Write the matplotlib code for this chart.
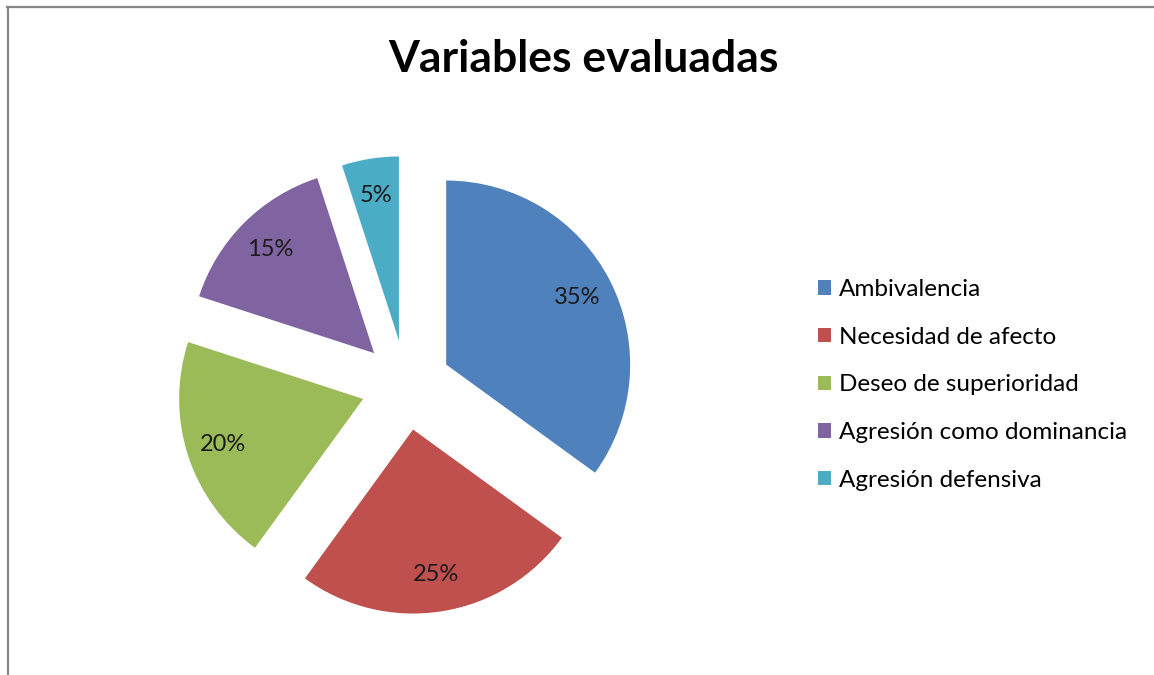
import matplotlib
matplotlib.use('Agg')
import matplotlib.pyplot as plt
from matplotlib.lines import Line2D

# Datos del gráfico
categorias = ['Ambivalencia', 'Necesidad de afecto', 'Deseo de superioridad',
              'Agresión como dominancia', 'Agresión defensiva']
porcentajes = [35, 25, 20, 15, 5]
colores = ['#4F81BD', '#C0504D', '#9BBB59', '#8064A2', '#4BACC6']
separacion = [0.245] * len(porcentajes)

plt.rcParams['font.family'] = ['Lato', 'DejaVu Sans']

W, H = 1154, 675
fig = plt.figure(figsize=(W / 100, H / 100), dpi=100)
fig.patch.set_facecolor('white')

# Eje cuadrado centrado en el pastel (radio 184 px)
cx, cy, r, half = 406, 385, 184, 230
ax = fig.add_axes([(cx - half) / W, (H - cy - half) / H, 2 * half / W, 2 * half / H])
wedges, textos, autotextos = ax.pie(
    porcentajes, colors=colores, explode=separacion, startangle=90,
    counterclock=False, autopct='%1.0f%%', pctdistance=0.8,
    wedgeprops={'linewidth': 0}, textprops={'fontsize': 17, 'color': '#1a1a1a'})
lim = half / r
ax.set_xlim(-lim, lim)
ax.set_ylim(-lim, lim)
ax.set_aspect('equal')
ax.axis('off')

fig.text(583 / W, 1 - 59 / H, 'Variables evaluadas', ha='center', va='center',
         fontsize=32, fontweight='bold', color='black')

fig.legend(wedges, categorias, loc='upper left',
           bbox_to_anchor=(818 / W, 1 - 279 / H), frameon=False,
           fontsize=17.5, handlelength=0.53, handleheight=0.53,
           handletextpad=0.35, labelspacing=1.1, borderpad=0, borderaxespad=0)

# Marco gris (izquierda y arriba)
fig.add_artist(Line2D([7.5 / W, 7.5 / W], [0, 1 - 7 / H], color='#878787', lw=1.6,
                      transform=fig.transFigure))
fig.add_artist(Line2D([7 / W, 1], [1 - 7 / H, 1 - 7 / H], color='#878787', lw=1.6,
                      transform=fig.transFigure))

fig.savefig('out.png', dpi=100, facecolor='white')
